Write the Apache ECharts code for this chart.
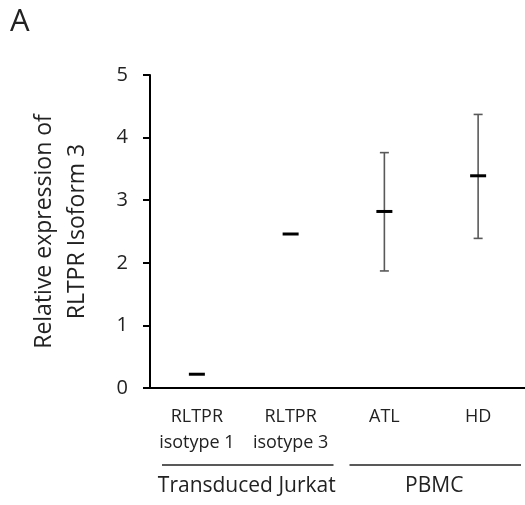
<!DOCTYPE html>
<html>
<head>
<meta charset="utf-8">
<script src="https://cdn.jsdelivr.net/npm/echarts@6/dist/echarts.min.js"></script>
<style>
  html, body { margin: 0; padding: 0; background: #fff; }
  #chart { width: 525px; height: 505px; }
</style>
</head>
<body>
<div id="chart"></div>
<script>
// 数据
var categories = ['RLTPR\nisotype 1', 'RLTPR\nisotype 3', 'ATL', 'HD'];
var means = [0.22, 2.46, 2.82, 3.39];
var errLow = [null, null, 1.87, 2.39];
var errHigh = [null, null, 3.76, 4.37];
var groupNames = ['Transduced Jurkat', 'PBMC'];
var groupFrom = [0, 2];
var groupTo = [1, 3];
var yMin = 0, yMax = 5, yStep = 1;

var fontFamily = '"Open Sans", "Noto Sans", sans-serif';
var textColor = '#222';

var myChart = echarts.init(document.getElementById('chart'));

var errData = [];
for (var i = 0; i < categories.length; i++) {
    if (errLow[i] != null) errData.push([i, errLow[i], errHigh[i]]);
}
var meanData = means.map(function (v, i) { return [i, v]; });

var option = {
    animation: false,
    title: {
        text: 'A',
        left: 5,
        top: 2,
        textStyle: { fontFamily: fontFamily, fontSize: 31, fontWeight: 'normal', color: textColor }
    },
    grid: {
        left: 150,
        right: 0,
        top: 75,
        bottom: 117
    },
    xAxis: {
        type: 'category',
        data: categories,
        axisLine: { lineStyle: { color: '#000', width: 2 } },
        axisTick: { show: false },
        axisLabel: {
            fontFamily: fontFamily,
            fontSize: 18,
            lineHeight: 26,
            color: textColor,
            margin: 16,
            interval: 0
        }
    },
    yAxis: {
        type: 'value',
        min: yMin,
        max: yMax,
        interval: yStep,
        name: 'Relative expression of\nRLTPR Isoform 3',
        nameLocation: 'middle',
        nameGap: 56,
        nameTextStyle: { fontFamily: fontFamily, fontSize: 23, lineHeight: 33, color: textColor },
        axisLine: { show: true, lineStyle: { color: '#000', width: 2 } },
        axisTick: { show: true, length: 7, lineStyle: { color: '#000', width: 2 } },
        splitLine: { show: false },
        axisLabel: { fontFamily: fontFamily, fontSize: 20, color: textColor, margin: 22 }
    },
    series: [
        {
            type: 'custom',
            name: 'error',
            data: errData,
            renderItem: function (params, api) {
                var x = api.value(0);
                var lo = api.coord([x, api.value(1)]);
                var hi = api.coord([x, api.value(2)]);
                var cap = 4.5;
                var style = { stroke: '#595959', lineWidth: 1.6 };
                return {
                    type: 'group',
                    children: [
                        { type: 'line', shape: { x1: lo[0], y1: lo[1], x2: hi[0], y2: hi[1] }, style: style },
                        { type: 'line', shape: { x1: lo[0] - cap, y1: lo[1], x2: lo[0] + cap, y2: lo[1] }, style: style },
                        { type: 'line', shape: { x1: hi[0] - cap, y1: hi[1], x2: hi[0] + cap, y2: hi[1] }, style: style }
                    ]
                };
            },
            z: 2
        },
        {
            type: 'custom',
            name: 'mean',
            data: meanData,
            renderItem: function (params, api) {
                var p = api.coord([api.value(0), api.value(1)]);
                var half = 8;
                return {
                    type: 'line',
                    shape: { x1: p[0] - half, y1: p[1], x2: p[0] + half, y2: p[1] },
                    style: { stroke: '#000', lineWidth: 3 }
                };
            },
            z: 3
        }
    ]
};
myChart.setOption(option);

// 分组标注
var axisY = myChart.convertToPixel({ yAxisIndex: 0 }, yMin);
var bandW = myChart.convertToPixel({ xAxisIndex: 0 }, 1) - myChart.convertToPixel({ xAxisIndex: 0 }, 0);
var graphics = [];
for (var g = 0; g < groupNames.length; g++) {
    var x0 = myChart.convertToPixel({ xAxisIndex: 0 }, groupFrom[g]) - bandW / 2 + 12;
    var x1 = myChart.convertToPixel({ xAxisIndex: 0 }, groupTo[g]) + bandW / 2 - 4;
    graphics.push({
        type: 'line',
        shape: { x1: x0, y1: axisY + 77, x2: x1, y2: axisY + 77 },
        style: { stroke: '#222', lineWidth: 1.5 }
    });
    graphics.push({
        type: 'text',
        x: (x0 + x1) / 2 - 1,
        y: axisY + 98,
        style: {
            text: groupNames[g],
            fontFamily: fontFamily,
            fontSize: 21,
            fill: textColor,
            align: 'center',
            verticalAlign: 'middle'
        }
    });
}
myChart.setOption({ graphic: graphics });
</script>
</body>
</html>
